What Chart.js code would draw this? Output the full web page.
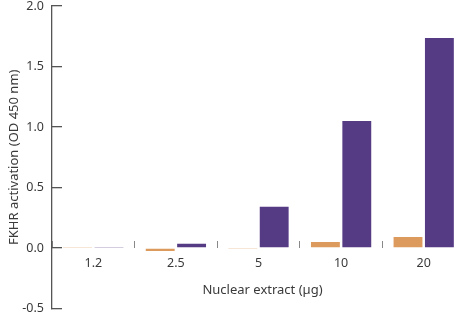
<!DOCTYPE html>
<html>
<head>
<meta charset="utf-8">
<script src="https://cdn.jsdelivr.net/npm/chart.js@4"></script>
<style>
  html, body { margin: 0; padding: 0; background: #fff; }
  #wrap { width: 465px; height: 320px; }
</style>
</head>
<body>
<div id="wrap"><canvas id="grafico"></canvas></div>
<script>
// Dados
const categorias = ['1.2', '2.5', '5', '10', '20'];
const serieLaranja = [0.005, -0.025, -0.005, 0.05, 0.09];
const serieRoxa = [0.005, 0.035, 0.34, 1.05, 1.735];
const tituloY = 'FKHR activation (OD 450 nm)';
const tituloX = 'Nuclear extract (\u00b5g)';

const fonte = '"Noto Sans", sans-serif';
const corTexto = '#3a3a3a';

// título do eixo x desenhado abaixo dos rótulos (o eixo fica em y = 0)
const tituloEixoX = {
    id: 'tituloEixoX',
    afterDraw(chart) {
        const c = chart.ctx;
        const area = chart.chartArea;
        const y0 = chart.scales.y.getPixelForValue(0);
        c.save();
        c.font = '13px ' + fonte;
        c.fillStyle = corTexto;
        c.textAlign = 'center';
        c.textBaseline = 'middle';
        c.fillText(tituloX, (area.left + area.right) / 2 + 4, y0 + 42);
        c.restore();
    }
};

const ctx = document.getElementById('grafico').getContext('2d');
const config = {
    type: 'bar',
    data: {
        labels: categorias,
        datasets: [{
            label: 'A',
            data: serieLaranja,
            backgroundColor: '#dc9a5d'
        }, {
            label: 'B',
            data: serieRoxa,
            backgroundColor: '#553a84'
        }]
    },
    options: {
        responsive: true,
        maintainAspectRatio: false,
        animation: false,
        categoryPercentage: 0.76,
        barPercentage: 0.92,
        layout: { padding: { top: 6, right: 0, bottom: 11.5, left: 0 } },
        plugins: {
            legend: { display: false },
            tooltip: { enabled: false }
        },
        scales: {
            x: {
                position: { y: 0 },
                afterFit: function(s) {
                    s.height = 0;
                    s.paddingLeft = 0;
                    s.paddingRight = 0;
                },
                border: { display: false },
                grid: {
                    offset: true,
                    drawOnChartArea: false,
                    tickLength: -7,
                    color: '#888'
                },
                ticks: {
                    padding: 15,
                    color: corTexto,
                    font: { family: fonte, size: 12.5 }
                }
            },
            y: {
                min: -0.5,
                max: 2.0,
                afterFit: function(s) {
                    s.width = 52;
                    s.paddingTop = 0;
                    s.paddingBottom = 0;
                },
                border: { color: '#555', width: 1.3 },
                grid: {
                    drawOnChartArea: false,
                    tickLength: -10,
                    color: '#555',
                    lineWidth: 1.3
                },
                ticks: {
                    stepSize: 0.5,
                    padding: 18,
                    color: corTexto,
                    font: { family: fonte, size: 12.5 },
                    callback: v => v.toFixed(1)
                },
                title: {
                    display: true,
                    text: tituloY,
                    color: corTexto,
                    padding: { top: 6, bottom: 0 },
                    font: { family: fonte, size: 13 }
                }
            }
        }
    },
    plugins: [tituloEixoX]
};

const grafico = new Chart(ctx, config);
</script>
</body>
</html>
